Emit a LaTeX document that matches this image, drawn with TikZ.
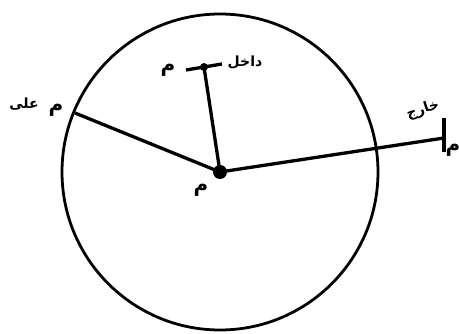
\documentclass[tikz,border=0pt]{standalone}
\usepackage{fontspec}
\newfontfamily\arabicfont[Script=Arabic]{DejaVu Sans}
\TeXXeTstate=1
\begin{document}
\begin{tikzpicture}[x=1pt,y=-1pt,
  thick line/.style={line width=3.3pt,black},
  lbl/.style={inner sep=0pt,font=\arabicfont\bfseries\fontsize{14}{16}\selectfont},
  mlbl/.style={inner sep=0pt,font=\arabicfont\bfseries\fontsize{20}{22}\selectfont}]
\useasboundingbox (0,0) rectangle (459,334);
\fill[white] (0,0) rectangle (459,334);
% circle
\node[draw,line width=2.8pt,circle,minimum size=316pt,inner sep=0pt] (C) at (220,172) {};
% points
\coordinate (O) at (220,172);
\coordinate (In) at (204,67);
\coordinate (On) at (75,113);
\coordinate (Out) at (444,138);
\coordinate (InA) at (222,64);
\coordinate (InB) at (186,70);
\coordinate (OutA) at (444,118);
\coordinate (OutB) at (444,152);
% lines
\draw[thick line] (O) -- (In);
\draw[thick line] (O) -- (On);
\draw[thick line] (O) -- (Out);
\draw[thick line] (InA) -- (InB);
\draw[thick line] (OutA) -- (OutB);
\fill (O) circle (7pt);
\fill (In) circle (4pt);
% labels
\node[mlbl] (mIn) at (168,70) {\beginR م\endR};
\node[lbl] (tIn) at (245,62) {\beginR داخل\endR};
\node[mlbl] (mOn) at (56,110) {\beginR م\endR};
\node[lbl] (tOn) at (24,104) {\beginR على\endR};
\node[lbl,rotate=18] (tOut) at (423,110) {\beginR خارج\endR};
\node[mlbl] (mOut) at (453,150) {\beginR م\endR};
\node[mlbl] (mO) at (201,190) {\beginR م\endR};
\end{tikzpicture}
\end{document}
